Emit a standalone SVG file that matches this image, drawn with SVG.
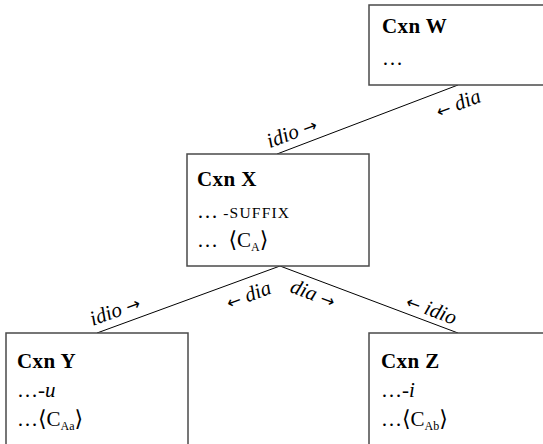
<svg xmlns="http://www.w3.org/2000/svg" width="543" height="444" viewBox="0 0 543 444">
  <style>
    .box { fill: #ffffff; stroke: #4a4a4a; stroke-width: 1.5; }
    .edge { stroke: #000000; stroke-width: 1; fill: none; }
    text { font-family: "Liberation Serif", "DejaVu Serif", serif; font-size: 21px; fill: #000000; }
    .title { font-weight: bold; letter-spacing: 0.4px; }
    .lbl { font-style: italic; text-anchor: middle; }
    .arr { font-family: "DejaVu Sans", sans-serif; font-style: normal; font-size: 17px; }
    .sc { font-size: 15.5px; letter-spacing: 1.2px; }
    .sub { font-size: 12px; }
    .ang { font-family: "DejaVu Serif", serif; font-size: 22px; }
  </style>

  <rect width="543" height="444" fill="#ffffff"/>

  <!-- connectors -->
  <g id="connectors">
    <line class="edge" x1="277" y1="154" x2="458" y2="85"/>
    <line class="edge" x1="280" y1="266" x2="97" y2="333"/>
    <line class="edge" x1="280" y1="266" x2="458" y2="333"/>

    <text class="lbl" transform="translate(297,146.4) rotate(-20.9)" y="-8">idio <tspan class="arr">→</tspan></text>
    <text class="lbl" transform="translate(452,87.3) rotate(-20.9)" y="24"><tspan class="arr">←</tspan> dia</text>

    <text class="lbl" transform="translate(120,324.6) rotate(-20.1)" y="-8">idio <tspan class="arr">→</tspan></text>
    <text class="lbl" transform="translate(243,279.6) rotate(-20.1)" y="23"><tspan class="arr">←</tspan> dia</text>

    <text class="lbl" transform="translate(318,280.3) rotate(20.6)" y="21">dia <tspan class="arr">→</tspan></text>
    <text class="lbl" transform="translate(427,321.3) rotate(20.6)" y="-6"><tspan class="arr">←</tspan> idio</text>
  </g>

  <!-- Cxn W -->
  <g id="cxn-w">
    <rect class="box" x="369" y="5" width="180" height="80"/>
    <text class="title" x="382" y="33">Cxn W</text>
    <text x="382" y="65">…</text>
  </g>

  <!-- Cxn X -->
  <g id="cxn-x">
    <rect class="box" x="187" y="154" width="182" height="112"/>
    <text class="title" x="197" y="186">Cxn X</text>
    <text x="197" y="218">… <tspan class="sc">-SUFFIX</tspan></text>
    <text x="197" y="247">…&#160;&#160;<tspan class="ang">⟨</tspan>C<tspan class="sub" dy="4">A</tspan><tspan class="ang" dy="-4">⟩</tspan></text>
  </g>

  <!-- Cxn Y -->
  <g id="cxn-y">
    <rect class="box" x="6" y="333" width="182" height="120"/>
    <text class="title" x="17" y="368">Cxn Y</text>
    <text x="17" y="397">…-<tspan font-style="italic">u</tspan></text>
    <text x="17" y="426">…<tspan class="ang">⟨</tspan>C<tspan class="sub" dy="4">Aa</tspan><tspan class="ang" dy="-4">⟩</tspan></text>
  </g>

  <!-- Cxn Z -->
  <g id="cxn-z">
    <rect class="box" x="369" y="333" width="180" height="120"/>
    <text class="title" x="381" y="368">Cxn Z</text>
    <text x="381" y="397">…-<tspan font-style="italic">i</tspan></text>
    <text x="381" y="426">…<tspan class="ang">⟨</tspan>C<tspan class="sub" dy="4">Ab</tspan><tspan class="ang" dy="-4">⟩</tspan></text>
  </g>
</svg>
